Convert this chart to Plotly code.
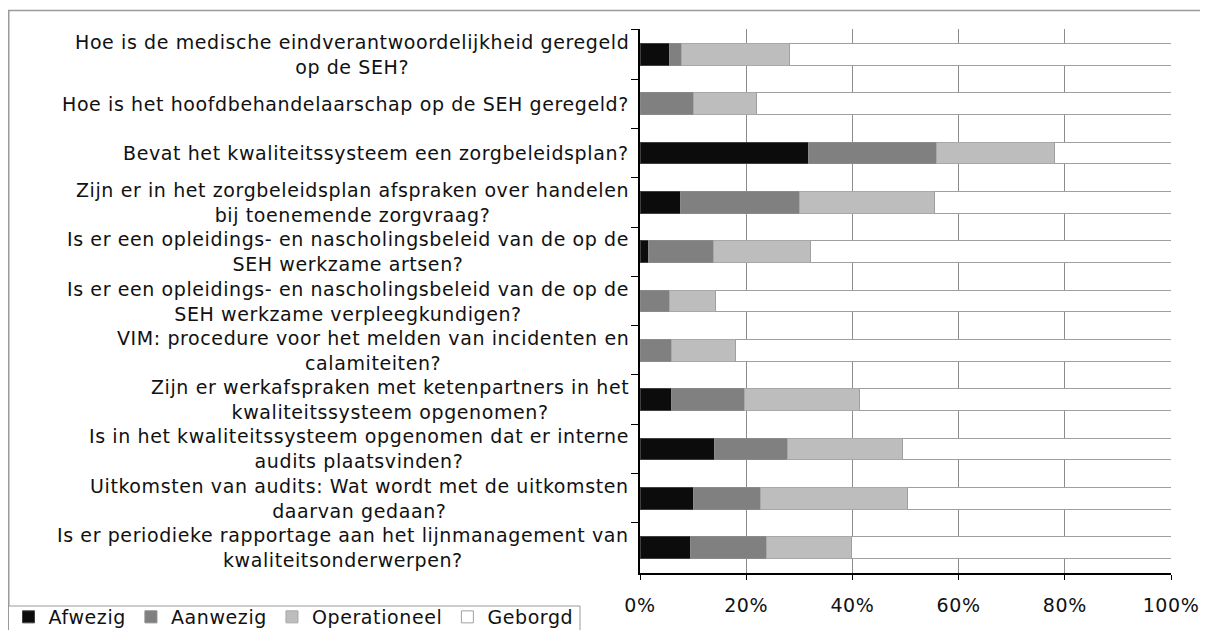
import plotly.graph_objects as go

categories = [
    "Hoe is de medische eindverantwoordelijkheid geregeld<br>op de SEH?",
    "Hoe is het hoofdbehandelaarschap op de SEH geregeld?",
    "Bevat het kwaliteitssysteem een zorgbeleidsplan?",
    "Zijn er in het zorgbeleidsplan afspraken over handelen<br>bij toenemende zorgvraag?",
    "Is er een opleidings- en nascholingsbeleid van de op de<br>SEH werkzame artsen?",
    "Is er een opleidings- en nascholingsbeleid van de op de<br>SEH werkzame verpleegkundigen?",
    "VIM: procedure voor het melden van incidenten en<br>calamiteiten?",
    "Zijn er werkafspraken met ketenpartners in het<br>kwaliteitssysteem opgenomen?",
    "Is in het kwaliteitssysteem opgenomen dat er interne<br>audits plaatsvinden?",
    "Uitkomsten van audits: Wat wordt met de uitkomsten<br>daarvan gedaan?",
    "Is er periodieke rapportage aan het lijnmanagement van<br>kwaliteitsonderwerpen?",
]

afwezig      = [5.6, 0.0, 31.7, 7.7, 1.6, 0.0, 0.0, 5.9, 14.0, 10.1, 9.5]
aanwezig     = [2.2, 10.1, 24.1, 22.3, 12.2, 5.6, 6.0, 13.7, 13.8, 12.5, 14.3]
operationeel = [20.3, 11.9, 22.3, 25.4, 18.3, 8.6, 11.9, 21.7, 21.7, 27.7, 16.1]
geborgd      = [71.9, 78.0, 21.9, 44.6, 67.9, 85.8, 82.1, 58.7, 50.5, 49.7, 60.1]

series_names = ["Afwezig", "Aanwezig", "Operationeel", "Geborgd"]
x_ticks = [0, 20, 40, 60, 80, 100]

FONT = "DejaVu Sans"
FS = 19
TXT = "#111111"
colors = ["#0c0c0c", "#808080", "#bdbdbd", "#ffffff"]
lines = ["#404040", "#8a8a8a", "#a8a8a8", "#a0a0a0"]


def spaced(s, ls=0.6):
    return "<br>".join(f'<span style="letter-spacing:{ls}px">{p}</span>' for p in s.split("<br>"))


# figure geometry (page has an 8px body margin)
W, H = 1200, 622
L, R, T, B = 632, 37, 21, 57
PW, PH = W - L - R, H - T - B


def px_x(x):  # figure pixel -> paper x
    return (x - L) / PW


def px_y(y):  # figure pixel (from top) -> paper y
    return (T + PH - y) / PH


ykeys = [f"c{i}" for i in range(len(categories))]

fig = go.Figure()
for name, vals, col, lc in zip(series_names, [afwezig, aanwezig, operationeel, geborgd], colors, lines):
    fig.add_trace(go.Bar(
        y=ykeys, x=vals, name=spaced(name), orientation="h",
        marker=dict(color=col, line=dict(color=lc, width=1)),
    ))

for key, label in zip(ykeys, categories):
    fig.add_annotation(
        x=0, xref="paper", y=key, yref="y", text=spaced(label), showarrow=False,
        xanchor="right", yanchor="middle", align="center", xshift=-9,
        font=dict(family=FONT, size=FS, color=TXT),
    )

# outer chart border
fig.add_shape(type="rect", xref="paper", yref="paper",
              x0=px_x(0.75), x1=px_x(W + 10), y0=px_y(H + 10), y1=px_y(2.5),
              line=dict(color="#9a9a9a", width=1.5), layer="below")
# legend frame
fig.add_shape(type="rect", xref="paper", yref="paper",
              x0=px_x(0.5), x1=px_x(572), y0=px_y(H + 20), y1=px_y(598),
              line=dict(color="#9a9a9a", width=1), fillcolor="white", layer="below")

fig.update_layout(
    width=W, height=H,
    margin=dict(l=L, r=R, t=T, b=B, autoexpand=False),
    barmode="stack", bargap=0.56,
    paper_bgcolor="white", plot_bgcolor="white",
    font=dict(family=FONT, size=FS, color=TXT),
    showlegend=True,
    legend=dict(
        orientation="h", x=px_x(0.5), xanchor="left",
        y=px_y(590), yanchor="top",
        borderwidth=0, bgcolor="rgba(0,0,0,0)",
        font=dict(family=FONT, size=FS, color=TXT),
        traceorder="normal", itemwidth=30,
    ),
    xaxis=dict(
        range=[0, 100], tickvals=x_ticks, ticktext=[spaced(f"{v}%") for v in x_ticks],
        showgrid=True, gridcolor="#8c8c8c", gridwidth=1,
        showline=True, linecolor="#000000", linewidth=1.5,
        ticks="outside", ticklen=5, tickcolor="#000000",
        tickfont=dict(family=FONT, size=FS, color=TXT),
        ticklabelstandoff=9, zeroline=False, fixedrange=True, automargin=False,
    ),
    yaxis=dict(
        categoryorder="array", categoryarray=ykeys, autorange="reversed",
        showticklabels=False, showgrid=False,
        showline=True, linecolor="#000000", linewidth=1.5,
        ticks="outside", ticklen=7, tickcolor="#000000", tickson="boundaries",
        zeroline=False, fixedrange=True, automargin=False,
    ),
)

fig.write_html("out.html")
